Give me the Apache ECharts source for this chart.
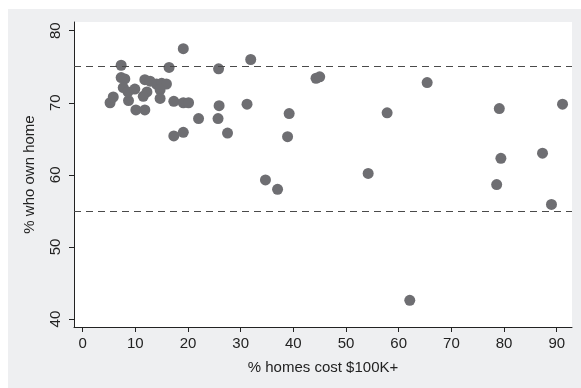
<!DOCTYPE html>
<html>
<head>
<meta charset="utf-8">
<script src="https://cdn.jsdelivr.net/npm/echarts@6/dist/echarts.min.js"></script>
<style>
html,body{margin:0;padding:0;background:#fff;}
#main{width:581px;height:388px;}
</style>
</head>
<body>
<div id="main"></div>
<script>
// % homes cost $100K+ (x) and % who own home (y)
var pctHomesCost = [5.2,5.8,7.3,7.3,8.0,7.7,8.7,8.6,9.9,10.1,11.8,11.8,12.8,14.0,15.0,15.9,14.7,12.2,11.5,14.7,17.3,19.1,20.1,16.4,19.1,22.0,17.3,19.1,25.8,25.9,25.7,27.5,31.9,31.2,34.7,37.0,38.9,39.2,44.3,45.0,54.2,57.8,62.1,65.4,78.6,79.1,79.4,87.3,89.0,91.1];
var pctOwnHome   = [70.0,70.8,75.2,73.5,73.3,72.1,70.3,71.5,71.9,69.0,69.0,73.2,73.0,72.6,72.7,72.6,71.8,71.5,70.9,70.6,70.2,70.0,70.0,74.9,77.5,67.8,65.4,65.9,74.7,69.6,67.8,65.8,76.0,69.8,59.3,58.0,65.3,68.5,73.4,73.6,60.2,68.6,42.6,72.8,58.65,69.2,62.3,63.0,55.9,69.8];
var refLines = [75, 55];
var xTicks = [0,10,20,30,40,50,60,70,80,90];
var yTicks = [40,50,60,70,80];

var points = pctHomesCost.map(function(x,i){return [x, pctOwnHome[i]];});
var font = 'Liberation Sans, Arial, Helvetica, sans-serif';
var chart = echarts.init(document.getElementById('main'), null, {renderer:'canvas'});
chart.setOption({
  animation:false,
  backgroundColor:'#fff',
  graphic:[{type:'rect',left:8,top:9,shape:{width:573,height:379},style:{fill:'#eeeff1'},z:-10,silent:true}],
  grid:{left:74,top:22,width:498,height:305,show:true,backgroundColor:'#fff',borderWidth:0},
  xAxis:{
    type:'value',min:-1.65,max:92.9,
    name:'% homes cost $100K+',nameLocation:'middle',nameGap:33,
    nameTextStyle:{fontFamily:font,fontSize:15,color:'#222'},
    axisLine:{show:true,onZero:false,lineStyle:{color:'#222',width:1}},
    axisTick:{show:true,length:5,customValues:xTicks,lineStyle:{color:'#222'}},
    axisLabel:{customValues:xTicks,fontFamily:font,fontSize:15,color:'#222',margin:9},
    splitLine:{show:false}
  },
  yAxis:{
    type:'value',min:38.9,max:81.2,
    name:'% who own home',nameLocation:'middle',nameGap:37,
    nameTextStyle:{fontFamily:font,fontSize:15,color:'#222'},
    axisLine:{show:true,onZero:false,lineStyle:{color:'#222',width:1}},
    axisTick:{show:true,length:5,customValues:yTicks,lineStyle:{color:'#222'}},
    axisLabel:{customValues:yTicks,rotate:90,fontFamily:font,fontSize:15,color:'#222',margin:11},
    splitLine:{show:false}
  },
  series:[{
    type:'scatter',data:points,symbol:'circle',symbolSize:11,
    itemStyle:{color:'#6e6e72',opacity:1},
    markLine:{silent:true,symbol:'none',label:{show:false},
      lineStyle:{color:'#4a4a4a',width:1,type:[7,5]},
      data:refLines.map(function(v){return {yAxis:v};})}
  }]
});
</script>
</body>
</html>
